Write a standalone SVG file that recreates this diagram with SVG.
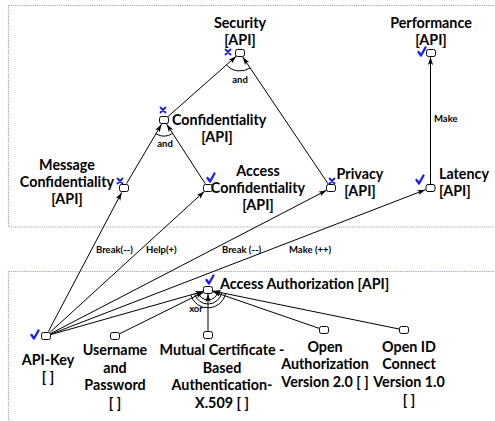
<svg xmlns="http://www.w3.org/2000/svg" width="495" height="421" viewBox="0 0 495 421">
  <style>
    .box { fill: #ffffff; stroke: #a4a4bc; stroke-width: 1.2; stroke-dasharray: 1.2 1; }
    .goal { fill: #ffffff; stroke: #000000; stroke-width: 1; }
    .lnk { fill: none; stroke: #000000; stroke-width: 1; }
    .arc { fill: none; stroke: #000000; stroke-width: 1; }
    .n { font-family: Lato, "Liberation Sans", sans-serif; font-weight: 700; font-size: 14.3px; fill: #000000; }
    .e { font-family: Lato, "Liberation Sans", sans-serif; font-weight: 700; font-size: 9.5px; fill: #000000; }
    .ok { fill: none; stroke: #1a1aff; stroke-width: 2.3; stroke-linecap: round; stroke-linejoin: round; }
    .no { fill: none; stroke: #1a1aff; stroke-width: 1.8; stroke-linecap: round; }
  </style>
  <defs>
    <marker id="arr" viewBox="0 0 8 6" refX="8" refY="3" markerWidth="8" markerHeight="6" markerUnits="userSpaceOnUse" orient="auto">
      <path d="M0,0.4 L8,3 L0,5.6 L2,3 Z" fill="#000000"/>
    </marker>
    <path id="chk" class="ok" d="M -3.5,0 L -1,3.5 L 3.5,-4.5"/>
    <path id="xmk" class="no" d="M -2.5,-2.5 L 2.5,2.5 M 2.5,-2.5 L -2.5,2.5"/>
  </defs>

  <!-- boundaries -->
  <rect class="box" x="8.5" y="5.5" width="495" height="221.5"/>
  <rect class="box" x="8.5" y="271.5" width="495" height="160"/>

  <!-- links -->
  <g id="connectors">
    <line class="lnk" marker-end="url(#arr)" x1="167.8" y1="116.7" x2="236.2" y2="56.3"/>
    <line class="lnk" marker-end="url(#arr)" x1="328.2" y1="183.9" x2="242.8" y2="57.1"/>
    <line class="lnk" marker-end="url(#arr)" x1="126.5" y1="183.7" x2="161.5" y2="124.3"/>
    <line class="lnk" marker-end="url(#arr)" x1="205.3" y1="183.8" x2="166.7" y2="124.2"/>
    <line class="lnk" marker-end="url(#arr)" x1="430.5" y1="184" x2="430.5" y2="57"/>
    <line class="lnk" marker-end="url(#arr)" x1="48.3" y1="331.6" x2="121.7" y2="192.4"/>
    <line class="lnk" marker-end="url(#arr)" x1="49.7" y1="332.6" x2="204.3" y2="191.4"/>
    <line class="lnk" marker-end="url(#arr)" x1="50.4" y1="333.7" x2="326.6" y2="190.3"/>
    <line class="lnk" marker-end="url(#arr)" x1="50.7" y1="334.2" x2="425.3" y2="189.8"/>
    <line class="lnk" marker-end="url(#arr)" x1="50.8" y1="334.6" x2="203.2" y2="291.4"/>
    <line class="lnk" marker-end="url(#arr)" x1="119.5" y1="333.8" x2="203.5" y2="292.2"/>
    <line class="lnk" marker-end="url(#arr)" x1="208" y1="331.5" x2="208" y2="294"/>
    <line class="lnk" marker-end="url(#arr)" x1="319.3" y1="328.4" x2="212.7" y2="291.6"/>
    <line class="lnk" marker-end="url(#arr)" x1="399.1" y1="329" x2="212.9" y2="291"/>

    <!-- decomposition arcs -->
    <path class="arc" d="M 250.1,67.9 A 18 18 0 0 1 226.5,64.9"/>
    <path class="arc" d="M 172.7,133.4 A 16 16 0 0 1 155.9,133.8"/>
    <path class="arc" d="M 217.8,292 A 10 10 0 0 1 198.4,292.7"/>
    <path class="arc" d="M 221.7,292.8 A 14 14 0 0 1 194.5,293.8"/>
    <path class="arc" d="M 225.6,293.6 A 18 18 0 0 1 190.7,294.9"/>

    <text class="e" x="240" y="83" text-anchor="middle">and</text>
    <text class="e" x="165" y="147" text-anchor="middle">and</text>
    <text class="e" x="196" y="312" text-anchor="middle">xor</text>
    <text class="e" x="434" y="122">Make</text>
    <text class="e" x="96" y="253">Break(--)</text>
    <text class="e" x="146" y="253">Help(+)</text>
    <text class="e" x="222" y="253">Break (--)</text>
    <text class="e" x="289" y="253">Make (++)</text>
  </g>

  <!-- goals -->
  <g id="security">
    <rect class="goal" x="235.5" y="49.5" width="9" height="7" rx="2"/>
    <text class="n" x="240" y="28" text-anchor="middle">Security</text>
    <text class="n" x="240" y="45" text-anchor="middle">[API]</text>
    <use href="#xmk" x="228" y="52"/>
  </g>
  <g id="performance">
    <rect class="goal" x="426.5" y="49.5" width="9" height="7" rx="2"/>
    <text class="n" x="431" y="28" text-anchor="middle">Performance</text>
    <text class="n" x="431" y="45" text-anchor="middle">[API]</text>
    <use href="#chk" x="422" y="52"/>
  </g>
  <g id="confidentiality">
    <rect class="goal" x="159.5" y="116.5" width="9" height="7" rx="2"/>
    <text class="n" x="172" y="125">Confidentiality</text>
    <text class="n" x="217" y="142" text-anchor="middle">[API]</text>
    <use href="#xmk" x="163" y="110"/>
  </g>
  <g id="message-confidentiality">
    <rect class="goal" x="119.5" y="184.5" width="9" height="7" rx="2"/>
    <text class="n" x="67" y="170" text-anchor="middle">Message</text>
    <text class="n" x="67" y="187" text-anchor="middle">Confidentiality</text>
    <text class="n" x="67" y="204" text-anchor="middle">[API]</text>
    <use href="#xmk" x="120" y="181"/>
  </g>
  <g id="access-confidentiality">
    <rect class="goal" x="203.5" y="184.5" width="9" height="7" rx="2"/>
    <text class="n" x="258" y="176" text-anchor="middle">Access</text>
    <text class="n" x="258" y="193" text-anchor="middle">Confidentiality</text>
    <text class="n" x="258" y="210" text-anchor="middle">[API]</text>
    <use href="#chk" x="211" y="178"/>
  </g>
  <g id="privacy">
    <rect class="goal" x="326.5" y="184.5" width="9" height="7" rx="2"/>
    <text class="n" x="360" y="179" text-anchor="middle">Privacy</text>
    <text class="n" x="360" y="196" text-anchor="middle">[API]</text>
    <use href="#xmk" x="332" y="181"/>
  </g>
  <g id="latency">
    <rect class="goal" x="426" y="184.5" width="9" height="7" rx="2"/>
    <text class="n" x="439" y="179">Latency</text>
    <text class="n" x="439" y="196">[API]</text>
    <use href="#chk" x="420" y="180"/>
  </g>
  <g id="access-authorization">
    <rect class="goal" x="203.5" y="286.5" width="9" height="7" rx="2"/>
    <text class="n" x="220" y="289">Access Authorization [API]</text>
    <use href="#chk" x="210" y="280"/>
  </g>
  <g id="api-key">
    <rect class="goal" x="41.5" y="332.5" width="9" height="7" rx="2"/>
    <text class="n" x="48" y="365" text-anchor="middle">API-Key</text>
    <text class="n" x="48" y="382" text-anchor="middle">[ ]</text>
    <use href="#chk" x="35" y="335"/>
  </g>
  <g id="username-password">
    <rect class="goal" x="110.5" y="332.5" width="9" height="7" rx="2"/>
    <text class="n" x="115" y="355" text-anchor="middle">Username</text>
    <text class="n" x="115" y="373" text-anchor="middle">and</text>
    <text class="n" x="115" y="390" text-anchor="middle">Password</text>
    <text class="n" x="115" y="408" text-anchor="middle">[ ]</text>
  </g>
  <g id="mutual-certificate">
    <rect class="goal" x="203.5" y="331.5" width="9" height="7" rx="2"/>
    <text class="n" x="222" y="355" text-anchor="middle">Mutual Certificate -</text>
    <text class="n" x="222" y="373" text-anchor="middle">Based</text>
    <text class="n" x="222" y="390" text-anchor="middle">Authentication-</text>
    <text class="n" x="222" y="408" text-anchor="middle">X.509 [ ]</text>
  </g>
  <g id="oauth">
    <rect class="goal" x="319.5" y="326.5" width="9" height="7" rx="2"/>
    <text class="n" x="325" y="352" text-anchor="middle">Open</text>
    <text class="n" x="325" y="369" text-anchor="middle">Authorization</text>
    <text class="n" x="325" y="387" text-anchor="middle">Version 2.0 [ ]</text>
  </g>
  <g id="openid-connect">
    <rect class="goal" x="399.5" y="326.5" width="9" height="7" rx="2"/>
    <text class="n" x="409" y="352" text-anchor="middle">Open ID</text>
    <text class="n" x="409" y="369" text-anchor="middle">Connect</text>
    <text class="n" x="409" y="387" text-anchor="middle">Version 1.0</text>
    <text class="n" x="409" y="405" text-anchor="middle">[ ]</text>
  </g>
</svg>
